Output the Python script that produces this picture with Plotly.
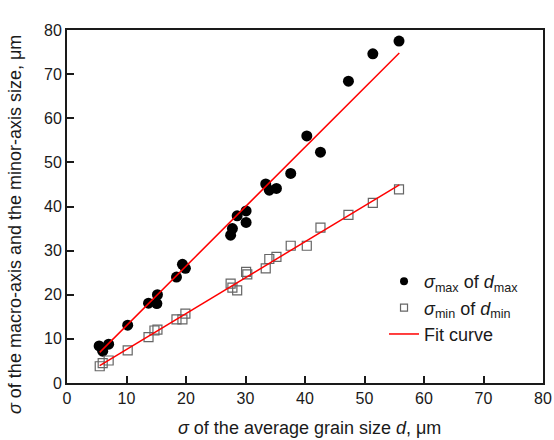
import numpy as np
import plotly.graph_objects as go

# sigma of average grain size d (x) and sigma of macro-axis (max) / minor-axis (min)
x_max = [5.4, 6.0, 7.0, 10.2, 13.7, 15.1, 15.2, 18.4, 19.4, 19.9, 27.5, 27.8, 28.6, 30.1, 30.1,
         33.4, 34.0, 35.2, 37.6, 40.3, 42.6, 47.3, 51.4, 55.8]
y_max = [8.4, 7.2, 8.8, 13.1, 18.1, 18.0, 20.0, 24.0, 26.9, 26.0, 33.5, 35.0, 37.9, 39.0, 36.4,
         45.1, 43.7, 44.1, 47.5, 56.0, 52.3, 68.4, 74.6, 77.5]

x_min = [5.5, 6.0, 7.0, 10.2, 13.7, 14.7, 15.2, 18.4, 19.4, 19.9, 27.5, 27.8, 28.6, 30.1, 30.3,
         33.4, 34.0, 35.2, 37.6, 40.3, 42.6, 47.3, 51.4, 55.8]
y_min = [3.8, 4.5, 5.1, 7.4, 10.4, 11.9, 12.1, 14.4, 14.4, 15.7, 22.5, 21.6, 21.0, 25.2, 24.6,
         26.0, 28.1, 28.6, 31.1, 31.1, 35.2, 38.1, 40.8, 43.9]

# linear fit parameters (slope, intercept)
fit_max = (1.348, -0.48)
fit_min = (0.813, -0.51)
fit_x = [5.5, 55.85]

x_ticks = [0, 10, 20, 30, 40, 50, 60, 70, 80]
y_ticks = [0, 10, 20, 30, 40, 50, 60, 70, 80]

x_title = "<i>σ</i> of the average grain size <i>d</i>, μm"
y_title = "<i>σ</i> of the macro-axis and the minor-axis size, μm"
name_max = "<i>σ</i><sub>max</sub> of <i>d</i><sub>max</sub>"
name_min = "<i>σ</i><sub>min</sub> of <i>d</i><sub>min</sub>"
name_fit = "Fit curve"

FONT = "Liberation Sans, Arial, sans-serif"
circ_marker = dict(symbol="circle", color="black")
sq_marker = dict(symbol="square-open", color="#666666", line=dict(width=1.2))

fig = go.Figure()
fig.add_trace(go.Scatter(x=x_max, y=y_max, mode="markers",
                         marker=dict(size=11, **circ_marker), showlegend=False))
fig.add_trace(go.Scatter(x=x_min, y=y_min, mode="markers",
                         marker=dict(size=9, **sq_marker), showlegend=False))
fx = np.array(fit_x)
fig.add_trace(go.Scatter(x=fx, y=fit_max[0] * fx + fit_max[1], mode="lines",
                         line=dict(color="red", width=1.5), showlegend=False))
fig.add_trace(go.Scatter(x=fx, y=fit_min[0] * fx + fit_min[1], mode="lines",
                         line=dict(color="red", width=1.5), showlegend=False))

# legend entries (smaller symbols, as in the reference legend)
fig.add_trace(go.Scatter(x=[None], y=[None], mode="markers",
                         marker=dict(size=8, **circ_marker), name=name_max))
fig.add_trace(go.Scatter(x=[None], y=[None], mode="markers",
                         marker=dict(size=7, **sq_marker), name=name_min))
fig.add_trace(go.Scatter(x=[None], y=[None], mode="lines",
                         line=dict(color="red", width=1.5), name=name_fit))

axis_common = dict(
    showgrid=False, zeroline=False, showline=True, linecolor="#1a1a1a", linewidth=2,
    mirror=True, ticks="inside", ticklen=7, tickwidth=1.5, tickcolor="#1a1a1a",
    tickfont=dict(family=FONT, size=16, color="#1a1a1a"), automargin=False,
)

fig.update_layout(
    width=554, height=440,
    margin=dict(l=67, r=11, t=30, b=57),
    paper_bgcolor="white", plot_bgcolor="white",
    font=dict(family=FONT, color="#1a1a1a"),
    showlegend=True,
    legend=dict(x=0.666, y=0.34, xanchor="left", yanchor="top",
                bgcolor="rgba(0,0,0,0)", font=dict(family=FONT, size=18),
                tracegroupgap=0, itemsizing="trace"),
    xaxis=dict(range=[0, 80], tickvals=x_ticks, **axis_common),
    yaxis=dict(range=[0, 80], tickvals=y_ticks, **axis_common),
    annotations=[
        dict(text=x_title, xref="paper", yref="paper",
             x=(309.5 - 67) / 476.0, y=-(428 - 383) / 353.0,
             xanchor="center", yanchor="middle", showarrow=False,
             font=dict(family=FONT, size=18, color="#1a1a1a")),
        dict(text=y_title, xref="paper", yref="paper", textangle=-90,
             x=-(67 - 15) / 476.0, y=(383 - 225) / 353.0,
             xanchor="center", yanchor="middle", showarrow=False,
             font=dict(family=FONT, size=18, color="#1a1a1a")),
    ],
)

fig.write_html("out.html")
